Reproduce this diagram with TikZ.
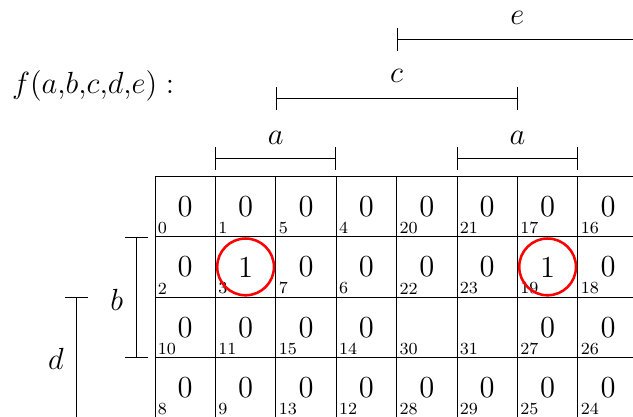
\documentclass[tikz,border=0pt]{standalone}
\usepackage{amsmath}
\usepackage{tikz}
\usetikzlibrary{arrows.meta}

\tikzset{
  value/.style={font=\Large},
  index/.style={font=\footnotesize, anchor=south west, inner sep=1.2pt},
  varname/.style={font=\Large},
  span/.style={{Bar[width=11pt]}-{Bar[width=11pt]}},
  ring/.style={draw=red, very thick}
}

\begin{document}
\begin{tikzpicture}[y=-1cm]
    \useasboundingbox (-2.566,-2.919) rectangle (7.914,3.985);
    % the map
    \draw (0,0) grid (8,4);
    \foreach \cells [count=\row from 0] in {{0/0,1/0,5/0,4/0,20/0,21/0,17/0,16/0},
        {2/0,3/1,7/0,6/0,22/0,23/0,19/1,18/0},
        {10/0,11/0,15/0,14/0,30/{},31/{},27/0,26/0},
        {8/0,9/0,13/0,12/0,28/0,29/0,25/0,24/0}}
      \foreach \idx/\val [count=\col from 0] in \cells {
        \node[value] (v\idx) at (\col+0.5,\row+0.5) {\val};
        \node[index] (n\idx) at (\col,\row+1) {\idx};
      };
    \draw[ring] (v3.center) circle (0.47);
    \draw[ring] (v19.center) circle (0.47);
    % variable ranges
    \draw[span] (1,-0.298) -- (3,-0.298);
    \draw[span] (5,-0.298) -- (7,-0.298);
    \draw[span] (2,-1.291) -- (6,-1.291);
    \draw[span] (4,-2.268) -- (8,-2.268);
    \draw[span] (-0.303,1) -- (-0.303,3);
    \draw[span] (-1.296,2) -- (-1.296,4);
    \node[varname] (va1) at (2,-0.63) {$a$};
    \node[varname] (va2) at (6,-0.63) {$a$};
    \node[varname] (vc) at (4,-1.656) {$c$};
    \node[varname] (ve) at (6,-2.616) {$e$};
    \node[varname] (vb) at (-0.634,2.04) {$b$};
    \node[varname] (vd) at (-1.64,3.03) {$d$};
    \node[varname, anchor=west] (fn) at (-2.49,-1.50) {$f(a{,}b{,}c{,}d{,}e):$};
\end{tikzpicture}
\end{document}
